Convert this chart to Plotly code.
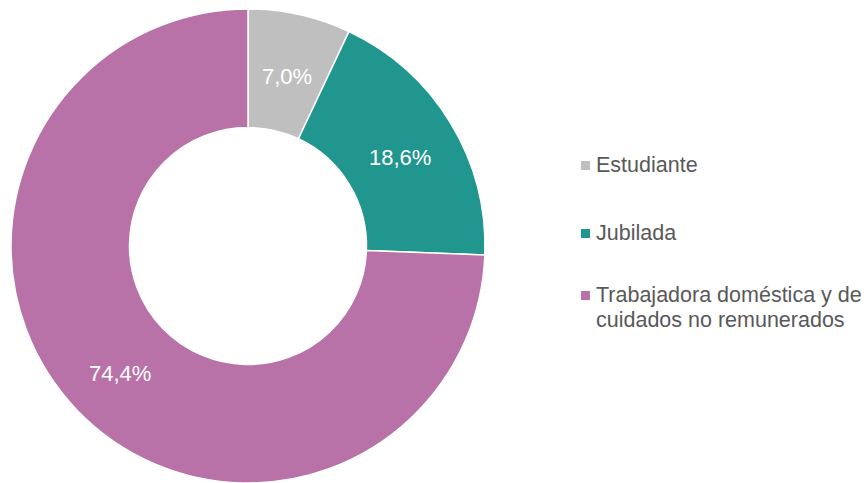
import math
import plotly.graph_objects as go

# --- data ---
labels = ["Estudiante", "Jubilada", "Trabajadora doméstica y de cuidados no remunerados"]
legend_lines = [["Estudiante"], ["Jubilada"], ["Trabajadora doméstica y de", "cuidados no remunerados"]]
values = [7.0, 18.6, 74.4]
colors = ["#BFBFBF", "#21968E", "#B972A8"]

W, H = 867, 483
FONT = "Liberation Sans, Arial, sans-serif"
HOLE = 0.5
CX, CY, R = 248, 248, 237  # donut centre / radius in pixels


def px_x(x):
    return x / W


def px_y(y):
    return 1 - y / H


fig = go.Figure(go.Pie(
    labels=labels,
    values=values,
    hole=HOLE,
    sort=False,
    direction="clockwise",
    rotation=0,
    marker=dict(colors=colors, line=dict(color="white", width=1.5)),
    textinfo="none",
    hoverinfo="label+percent",
    showlegend=False,
    domain=dict(x=[px_x(CX - R - 2), px_x(CX + R + 2)], y=[0, px_y(CY - R - 2)]),
))

# percentage labels at the middle of each ring segment
# (plotly pushes the narrow 7 % label to the outer edge, so place them ourselves)
total = sum(values)
r_mid = R * (1 + HOLE) / 2
cum = 0
for v in values:
    ang = 2 * math.pi * (cum + v / 2) / total
    cum += v
    pct = f"{100 * v / total:.1f}%".replace(".", ",")
    fig.add_annotation(text=pct, xref="paper", yref="paper",
                       x=px_x(CX + r_mid * math.sin(ang)), y=px_y(CY - r_mid * math.cos(ang) + 2),
                       xanchor="center", yanchor="middle", showarrow=False,
                       font=dict(family=FONT, size=22, color="white"))

# legend drawn by hand so the item spacing matches the original
legend_y = [165, 233, 295]
line_gap = 25
for lines, col, y in zip(legend_lines, colors, legend_y):
    fig.add_shape(type="rect", xref="paper", yref="paper",
                  x0=px_x(581), x1=px_x(590), y0=px_y(y + 5), y1=px_y(y - 4),
                  fillcolor=col, line=dict(width=0))
    for i, txt in enumerate(lines):
        fig.add_annotation(text=txt, xref="paper", yref="paper",
                           x=px_x(594), y=px_y(y + i * line_gap), xanchor="left", yanchor="middle",
                           showarrow=False, align="left",
                           font=dict(family=FONT, size=21.5, color="#595959"))

fig.update_layout(
    width=W, height=H,
    margin=dict(l=0, r=0, t=0, b=0),
    paper_bgcolor="white",
    plot_bgcolor="white",
)

# drop the default 8px page margin so the figure fills the window exactly
fig.write_html("out.html", config={"displayModeBar": False},
               post_script="document.body.style.margin = '0';")
